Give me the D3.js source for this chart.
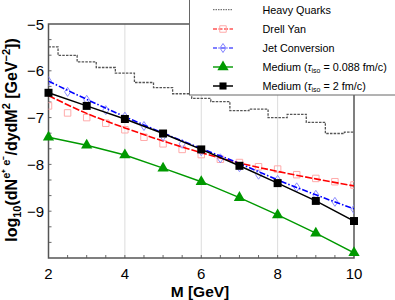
<!DOCTYPE html>
<html><head><meta charset="utf-8">
<script src="https://cdn.jsdelivr.net/npm/d3@7"></script>
<style>
body{margin:0;background:#fff;}
svg{display:block;font-family:"Liberation Sans",Arial,Helvetica,sans-serif;}
</style></head>
<body><svg id="c" width="395" height="300"></svg>
<script>
// ---- data ----
const hqM = [2,2.5,3,3.5,4,4.5,5,5.5,6,6.5,7,7.5,8,8.5,9,9.5,10];
const hqV = [-5.49,-5.67,-5.81,-5.93,-6.05,-6.25,-6.36,-6.49,-6.59,-6.66,-6.85,-6.82,-7.00,-6.93,-7.10,-7.34,-7.31];

const dyLineM = [2,3,4,5,6,7,8,9,10];
const dyLineV = [-6.53,-6.91,-7.22,-7.50,-7.75,-7.97,-8.15,-8.31,-8.46];
const dyPtM = [2,2.5,3,3.5,4,4.5,5,5.5,6,6.5,7,7.5,8,8.5,9,9.5,10];
const dyPtV = [-6.75,-6.90,-7.00,-7.12,-7.26,-7.42,-7.56,-7.68,-7.79,-7.89,-7.96,-8.05,-8.10,-8.22,-8.30,-8.37,-8.44];

const jcLineM = [2,3,4,5,6,7,8,9,10];
const jcLineV = [-6.22,-6.61,-6.98,-7.33,-7.66,-7.98,-8.33,-8.65,-8.95];
const jcPtM = [2,2.5,3,3.5,4,4.5,5,5.5,6,6.5,7,7.5,8,8.5,9,9.5,10];
const jcPtV = [-6.22,-6.45,-6.62,-6.84,-6.98,-7.18,-7.40,-7.56,-7.72,-7.87,-8.06,-8.22,-8.33,-8.49,-8.65,-8.80,-8.96];

const medM = [2,3,4,5,6,7,8,9,10];
const medShortV = [-7.42,-7.59,-7.80,-8.08,-8.37,-8.71,-9.08,-9.47,-9.89];
const medLongV  = [-6.47,-6.75,-7.03,-7.34,-7.68,-8.03,-8.40,-8.78,-9.21];

const xTicks = [2,4,6,8,10];
const yTicks = [-5,-6,-7,-8,-9];

// ---- layout ----
const svg = d3.select("#c");
const L=48.5, R=354, T=24, B=258;
const x = d3.scaleLinear().domain([2,10]).range([L,R]);
const y = d3.scaleLinear().domain([-10,-5]).range([B,T]);
const zip = (a,b)=>a.map((m,i)=>[m,b[i]]);

// grid
const g = svg.append("g");
g.selectAll(".gx").data(xTicks.filter(t=>t>2&&t<10)).enter().append("line")
 .attr("x1",d=>x(d)).attr("x2",d=>x(d)).attr("y1",T).attr("y2",B)
 .attr("stroke","#dcdcdc").attr("stroke-width",1);
g.selectAll(".gy").data(yTicks.filter(t=>t>-5)).enter().append("line")
 .attr("y1",d=>y(d)).attr("y2",d=>y(d)).attr("x1",L).attr("x2",R)
 .attr("stroke","#dcdcdc").attr("stroke-width",1);

// minor ticks
const xMinor = d3.range(2.5,10,0.5);
g.selectAll(".mx").data(xMinor).enter().append("line")
 .attr("x1",d=>x(d)).attr("x2",d=>x(d)).attr("y1",B).attr("y2",B-3)
 .attr("stroke","#444").attr("stroke-width",0.8);
const yMinor = d3.range(-10,-5,1/3).slice(1);
g.selectAll(".my").data(yMinor).enter().append("line")
 .attr("y1",d=>y(d)).attr("y2",d=>y(d)).attr("x1",L).attr("x2",L+3)
 .attr("stroke","#444").attr("stroke-width",0.8);

// frame
svg.append("rect").attr("x",L).attr("y",T).attr("width",R-L).attr("height",B-T)
 .attr("fill","none").attr("stroke","#555").attr("stroke-width",1.5);

// tick labels
svg.selectAll(".xt").data(xTicks).enter().append("text")
 .attr("x",d=>x(d)).attr("y",279).attr("text-anchor","middle")
 .attr("font-size",15).text(d=>d);
svg.selectAll(".yt").data(yTicks).enter().append("text")
 .attr("x",44).attr("y",d=>y(d)+5.5).attr("text-anchor","end")
 .attr("font-size",15).text(d=>"\u2212"+Math.abs(d));

// axis titles
svg.append("text").attr("x",200).attr("y",297).attr("text-anchor","middle")
 .attr("font-size",15.5).attr("font-weight","bold").text("M [GeV]");
const yt = svg.append("text").attr("transform","translate(17,140) rotate(-90)")
 .attr("text-anchor","middle").attr("font-size",16).attr("font-weight","bold");
yt.append("tspan").text("log");
yt.append("tspan").attr("font-size",11).attr("dy",4).text("10");
yt.append("tspan").attr("dy",-4).text("(dN");
yt.append("tspan").attr("font-size",11).attr("dy",-7).text("e\u207A e\u207B");
yt.append("tspan").attr("dy",7).text("/dydM");
yt.append("tspan").attr("font-size",11).attr("dy",-7).text("2");
yt.append("tspan").attr("dy",7).text(" [GeV");
yt.append("tspan").attr("font-size",11).attr("dy",-7).text("\u22122");
yt.append("tspan").attr("dy",7).text("])");

// clip
svg.append("clipPath").attr("id","cp").append("rect").attr("x",L).attr("y",T).attr("width",R-L).attr("height",B-T);
const p = svg.append("g").attr("clip-path","url(#cp)");
const lin = d3.line().x(d=>x(d[0])).y(d=>y(d[1]));

// heavy quarks step
p.append("path").datum(zip(hqM,hqV)).attr("d",d3.line().x(d=>x(d[0])).y(d=>y(d[1])).curve(d3.curveStep))
 .attr("fill","none").attr("stroke","#555").attr("stroke-width",1.3).attr("stroke-dasharray","2.5,1.2");

// drell yan
const sqPath = d3.symbol().type(d3.symbolSquare).size(42)();
p.selectAll(".dyp").data(zip(dyPtM,dyPtV)).enter().append("path").attr("d",sqPath)
 .attr("transform",d=>`translate(${x(d[0])},${y(d[1])})`)
 .attr("fill","none").attr("stroke","#ffaaaa").attr("stroke-width",1);
p.append("path").datum(zip(dyLineM,dyLineV)).attr("d",lin.curve(d3.curveMonotoneX))
 .attr("fill","none").attr("stroke","#ff0000").attr("stroke-width",1.6).attr("stroke-dasharray","7,2");

// jet conversion
const diaPath = "M0,-4.5L3,0L0,4.5L-3,0Z";
p.selectAll(".jcp").data(zip(jcPtM,jcPtV)).enter().append("path").attr("d",diaPath)
 .attr("transform",d=>`translate(${x(d[0])},${y(d[1])})`)
 .attr("fill","none").attr("stroke","#8080ff").attr("stroke-width",0.9);
p.append("path").datum(zip(jcLineM,jcLineV)).attr("d",d3.line().x(d=>x(d[0])).y(d=>y(d[1])).curve(d3.curveMonotoneX))
 .attr("fill","none").attr("stroke","#0000ff").attr("stroke-width",1.6).attr("stroke-dasharray","6,2,1.5,2");

// medium short
p.append("path").datum(zip(medM,medShortV)).attr("d",d3.line().x(d=>x(d[0])).y(d=>y(d[1])))
 .attr("fill","none").attr("stroke","#009900").attr("stroke-width",1.4);
const triPath = d3.symbol().type(d3.symbolTriangle).size(55)();
svg.selectAll(".ms").data(zip(medM,medShortV)).enter().append("path").attr("d",triPath)
 .attr("transform",d=>`translate(${x(d[0])},${y(d[1])})`).attr("fill","#009900");

// medium long
p.append("path").datum(zip(medM,medLongV)).attr("d",d3.line().x(d=>x(d[0])).y(d=>y(d[1])))
 .attr("fill","none").attr("stroke","#000").attr("stroke-width",1.5);
const bsq = d3.symbol().type(d3.symbolSquare).size(64)();
svg.selectAll(".ml").data(zip(medM,medLongV)).enter().append("path").attr("d",bsq)
 .attr("transform",d=>`translate(${x(d[0])},${y(d[1])})`).attr("fill","#000");

// legend
const lg = svg.append("g");
lg.append("rect").attr("x",189.5).attr("y",-2).attr("width",215).attr("height",97)
 .attr("fill","#fff").attr("stroke","#666").attr("stroke-width",1);
const ly = [9.7,29,48,67,86];
const lx1=213, lx2=233, lxm=223, ltx=262.5;
const fs=10.8;
// heavy
lg.append("line").attr("x1",lx1).attr("x2",lx2).attr("y1",ly[0]).attr("y2",ly[0])
 .attr("stroke","#555").attr("stroke-width",1).attr("stroke-dasharray","1.5,1");
// DY
lg.append("line").attr("x1",lx1).attr("x2",lx2).attr("y1",ly[1]).attr("y2",ly[1])
 .attr("stroke","#ff0000").attr("stroke-width",1.2).attr("stroke-dasharray","4,1.5");
lg.append("path").attr("d",sqPath).attr("transform",`translate(${lxm},${ly[1]})`)
 .attr("fill","none").attr("stroke","#ffaaaa");
// JC
lg.append("line").attr("x1",lx1).attr("x2",lx2).attr("y1",ly[2]).attr("y2",ly[2])
 .attr("stroke","#0000ff").attr("stroke-width",1.2).attr("stroke-dasharray","4,1.5,1,1.5");
lg.append("path").attr("d",diaPath).attr("transform",`translate(${lxm},${ly[2]})`)
 .attr("fill","none").attr("stroke","#8080ff");
// green
lg.append("line").attr("x1",lx1).attr("x2",lx2).attr("y1",ly[3]).attr("y2",ly[3])
 .attr("stroke","#009900").attr("stroke-width",1.4);
lg.append("path").attr("d",triPath).attr("transform",`translate(${lxm},${ly[3]})`).attr("fill","#009900");
// black
lg.append("line").attr("x1",lx1).attr("x2",lx2).attr("y1",ly[4]).attr("y2",ly[4])
 .attr("stroke","#000").attr("stroke-width",1.5);
lg.append("path").attr("d",d3.symbol().type(d3.symbolSquare).size(50)()).attr("transform",`translate(${lxm},${ly[4]})`).attr("fill","#000");

const addT = (i)=>lg.append("text").attr("x",ltx).attr("y",ly[i]+4).attr("font-size",fs);
addT(0).text("Heavy Quarks");
addT(1).text("Drell Yan");
addT(2).text("Jet Conversion");
const t3 = addT(3);
t3.append("tspan").text("Medium (");
t3.append("tspan").attr("font-style","italic").text("\u03C4");
t3.append("tspan").attr("font-size",7).attr("dy",2).text("iso");
t3.append("tspan").attr("dy",-2).text(" =  0.088 fm/c)");
const t4 = addT(4);
t4.append("tspan").text("Medium (");
t4.append("tspan").attr("font-style","italic").text("\u03C4");
t4.append("tspan").attr("font-size",7).attr("dy",2).text("iso");
t4.append("tspan").attr("dy",-2).text(" = 2 fm/c)");
</script></body></html>
